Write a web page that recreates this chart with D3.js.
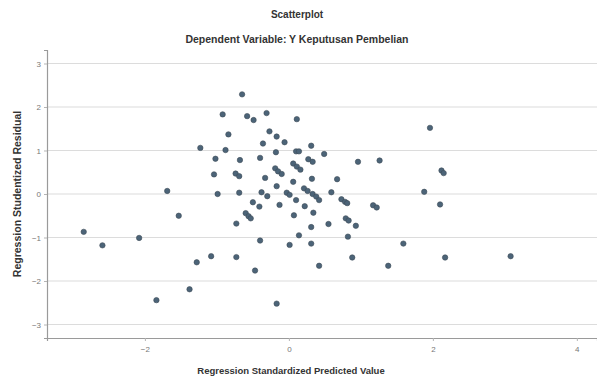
<!DOCTYPE html>
<html><head><meta charset="utf-8">
<script src="https://cdn.jsdelivr.net/npm/d3@7"></script>
<style>
body{margin:0;background:#fff;}
svg{display:block;}
text{font-family:"Liberation Sans",Arial,sans-serif;}
</style></head>
<body><div id="chart"></div>
<script>
const title = "Scatterplot";
const subtitle = "Dependent Variable: Y Keputusan Pembelian";
const xTitle = "Regression Standardized Predicted Value";
const yTitle = "Regression Studentized Residual";
const xTicks = [-2, 0, 2, 4];
const yTicks = [-3, -2, -1, 0, 1, 2, 3];

const predicted = [
 -0.65,-0.92,-0.58,-0.49,-0.31,0.11,-0.84,-0.27,-0.17,-0.06,
 -0.36,-1.23,-0.88,-0.18,0.10,0.14,0.31,0.49,-1.02,-0.68,
 -0.40,0.06,0.11,0.16,0.27,0.33,0.96,1.26,-1.04,-0.74,
 -0.69,-0.33,-0.19,-0.15,-0.10,0.06,0.32,0.67,2.12,2.15,
 1.96,-0.17,-1.69,-0.99,-0.69,-0.38,-0.30,-0.03,0.01,0.21,
 0.26,0.33,0.38,0.42,0.59,0.73,0.78,0.81,0.10,1.88,
 -0.50,-0.41,-0.13,0.22,1.17,1.22,2.10,0.34,0.07,-0.60,
 -0.56,-0.53,-1.53,-0.73,0.55,0.31,0.79,0.83,0.93,0.14,
 0.82,-2.85,-2.59,-2.08,-0.40,0.01,0.31,1.59,-1.08,-1.28,
 -0.73,-0.47,0.42,0.88,2.17,3.08,1.38,-1.38,-1.84,-0.17
];
const residual = [
 2.29,1.83,1.79,1.70,1.86,1.72,1.37,1.44,1.32,1.19,
 1.16,1.06,1.01,0.96,0.98,0.98,1.11,0.92,0.81,0.78,
 0.83,0.70,0.63,0.56,0.80,0.74,0.74,0.77,0.45,0.47,
 0.41,0.37,0.59,0.52,0.46,0.28,0.35,0.34,0.54,0.48,
 1.52,0.18,0.07,0.00,0.03,0.04,-0.05,0.03,-0.02,0.13,
 0.07,0.00,-0.06,-0.14,0.04,-0.12,-0.18,-0.21,-0.14,0.05,
 -0.19,-0.29,-0.25,-0.28,-0.26,-0.31,-0.24,-0.43,-0.49,-0.44,
 -0.51,-0.56,-0.50,-0.68,-0.69,-0.76,-0.56,-0.61,-0.73,-0.95,
 -0.98,-0.87,-1.18,-1.01,-1.07,-1.17,-1.14,-1.14,-1.43,-1.57,
 -1.45,-1.76,-1.65,-1.46,-1.46,-1.43,-1.65,-2.19,-2.44,-2.52
];

const W = 597, H = 380;
const svg = d3.select("#chart").append("svg").attr("width", W).attr("height", H);

const x = d3.scaleLinear().domain([-3.36, 4.28]).range([47, 597]);
const y = d3.scaleLinear().domain([-3.31, 3.31]).range([338, 50]);

// gridlines
svg.append("g").selectAll("line").data(yTicks).join("line")
  .attr("x1", x.range()[0]).attr("x2", x.range()[1])
  .attr("y1", d => y(d)).attr("y2", d => y(d))
  .attr("stroke", "#dcdcdc").attr("stroke-width", 1.2);

// axes
const xAxis = svg.append("g").attr("transform", `translate(0,${y.range()[0]})`)
  .call(d3.axisBottom(x).tickValues(xTicks).tickSize(3).tickPadding(5).tickFormat(d3.format("d")));
const yAxis = svg.append("g").attr("transform", `translate(${x.range()[0]},0)`)
  .call(d3.axisLeft(y).tickValues(yTicks).tickSize(3).tickPadding(3).tickFormat(d3.format("d")));
[xAxis, yAxis].forEach(g => {
  g.select(".domain").attr("stroke", "#9a9a9a").attr("stroke-width", 1.2);
  g.selectAll(".tick line").attr("stroke", "#b5b5b5");
  g.selectAll(".tick text").attr("fill", "#777").attr("font-size", 8)
    .attr("font-family", "'Liberation Sans',Arial,sans-serif");
});

// points
const pts = predicted.map((v, i) => ({px: v, ry: residual[i]}));
svg.append("g").selectAll("circle").data(pts).join("circle")
  .attr("cx", d => x(d.px)).attr("cy", d => y(d.ry)).attr("r", 2.7)
  .attr("fill", "#4c6478").attr("stroke", "#3e4c58").attr("stroke-width", 0.6);

// titles
svg.append("text").attr("x", 297).attr("y", 18).attr("text-anchor", "middle")
  .attr("font-size", 10).attr("font-weight", "bold").attr("fill", "#333").text(title);
svg.append("text").attr("x", 297).attr("y", 43).attr("text-anchor", "middle")
  .attr("font-size", 10.5).attr("font-weight", "bold").attr("fill", "#333").text(subtitle);
svg.append("text").attr("x", 291).attr("y", 374).attr("text-anchor", "middle")
  .attr("font-size", 9.5).attr("font-weight", "bold").attr("fill", "#333").text(xTitle);
svg.append("text").attr("transform", `translate(21,${y(0)}) rotate(-90)`).attr("text-anchor", "middle")
  .attr("font-size", 10.5).attr("font-weight", "bold").attr("fill", "#333").text(yTitle);
</script></body></html>
